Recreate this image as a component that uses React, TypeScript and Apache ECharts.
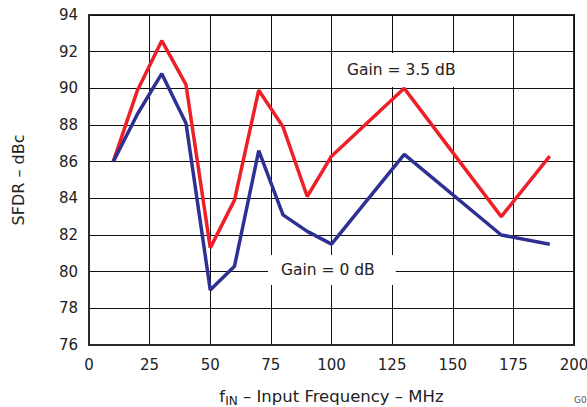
import React, { useEffect, useRef } from "react";
import * as echarts from "echarts";

const freqs = [10, 20, 30, 40, 50, 60, 70, 80, 90, 100, 130, 170, 190];
const gain35 = [86.0, 89.9, 92.6, 90.2, 81.3, 83.9, 89.9, 87.9, 84.1, 86.3, 90.0, 83.0, 86.3];
const gain0 = [86.0, 88.6, 90.8, 88.1, 79.0, 80.3, 86.6, 83.1, 82.2, 81.5, 86.4, 82.0, 81.5];

const FONT = "'DejaVu Sans', sans-serif";

export default function App() {
  const ref = useRef<HTMLDivElement>(null);
  useEffect(() => {
    const chart = echarts.init(ref.current!, null, { renderer: "svg" });
    const toPairs = (ys: number[]) => freqs.map((f, i) => [f, ys[i]]);
    chart.setOption({
      animation: false,
      backgroundColor: "#ffffff",
      textStyle: { fontFamily: FONT },
      grid: {
        left: 89,
        right: 13,
        top: 15,
        bottom: 62,
        containLabel: false,
        outerBoundsMode: "none",
        show: true,
        borderColor: "#2a2a2a",
        borderWidth: 2,
        backgroundColor: "transparent",
      },
      xAxis: {
        type: "value",
        min: 0,
        max: 200,
        interval: 25,
        name: "{f|f}{sub|IN}{t| – Input Frequency – MHz}",
        nameLocation: "middle",
        nameGap: 41,
        nameTextStyle: {
          rich: {
            f: { fontSize: 16.5, color: "#222", fontFamily: FONT },
            sub: { fontSize: 12, color: "#222", fontFamily: FONT, verticalAlign: "bottom", padding: [9, 0, 0, 0] },
            t: { fontSize: 16.5, color: "#222", fontFamily: FONT },
          },
        },
        axisLine: { show: true, lineStyle: { color: "#2a2a2a", width: 2 } },
        axisTick: { show: false },
        axisLabel: { color: "#222", fontSize: 15, margin: 12, fontFamily: FONT },
        splitLine: { show: true, lineStyle: { color: "#111", width: 1 } },
      },
      yAxis: {
        type: "value",
        min: 76,
        max: 94,
        interval: 2,
        name: "SFDR – dBc",
        nameLocation: "middle",
        nameGap: 63,
        nameTextStyle: { color: "#222", fontSize: 16, fontFamily: FONT },
        axisLine: { show: true, lineStyle: { color: "#2a2a2a", width: 2 } },
        axisTick: { show: false },
        axisLabel: { color: "#222", fontSize: 15, margin: 11, fontFamily: FONT },
        splitLine: { show: true, lineStyle: { color: "#111", width: 1 } },
      },
      series: [
        {
          name: "Gain = 3.5 dB",
          type: "line",
          data: toPairs(gain35),
          symbol: "none",
          lineStyle: { color: "#ee2027", width: 3.5 },
          z: 3,
        },
        {
          name: "Gain = 0 dB",
          type: "line",
          data: toPairs(gain0),
          symbol: "none",
          lineStyle: { color: "#2e3192", width: 3.5 },
          z: 4,
        },
      ],
      graphic: [
        {
          type: "text",
          left: 336,
          top: 53,
          z: 10,
          style: {
            text: "Gain = 3.5 dB",
            fill: "#222",
            font: `15.5px ${FONT}`,
            lineHeight: 16,
            backgroundColor: "#fff",
            padding: [9, 10, 9, 11],
          },
        },
        {
          type: "text",
          left: 268,
          top: 255,
          z: 10,
          style: {
            text: "Gain = 0 dB",
            fill: "#222",
            font: `15.5px ${FONT}`,
            lineHeight: 16,
            backgroundColor: "#fff",
            padding: [7, 21, 7, 13],
          },
        },
        {
          type: "text",
          left: 574,
          top: 395,
          z: 10,
          style: { text: "G0", fill: "#555", font: `9px ${FONT}` },
        },
      ],
    });
    return () => chart.dispose();
  }, []);
  return (
    <div
      ref={ref}
      style={{ position: "fixed", left: 0, top: 0, width: 587, height: 407 }}
    />
  );
}
